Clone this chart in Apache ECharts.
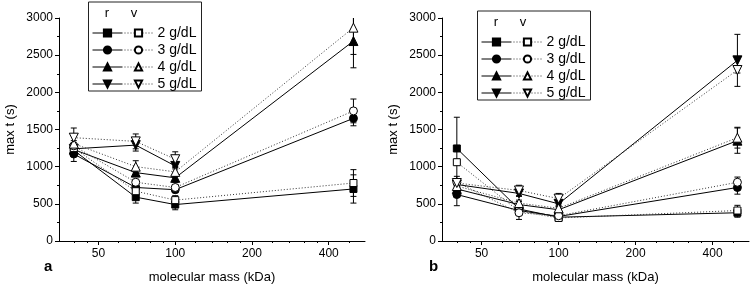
<!DOCTYPE html>
<html>
<head>
<meta charset="utf-8">
<script src="https://cdn.jsdelivr.net/npm/echarts@6/dist/echarts.min.js"></script>
<style>
  html, body { margin: 0; padding: 0; background: #fff; }
  #chart { width: 751px; height: 289px; }
</style>
</head>
<body>
<div id="chart"></div>
<script>
// molecular masses of the dextrans (kDa)
const masses = [40, 70, 100, 500];
const concentrations = ['2 g/dL', '3 g/dL', '4 g/dL', '5 g/dL'];
const xMajorTicks = [50, 100, 200, 400];
const xMinorTicks = [40, 45, 60, 70, 80, 90, 120, 140, 160, 180, 240, 280, 320, 360, 480];
const xRange = [35, 555];

// panel a, max t (s) and error, r = filled/solid, v = hollow/dotted
const aR2 = [1220, 590, 490, 700];    const aR2Err = [40, 80, 70, 190];
const aV2 = [1250, 670, 550, 780];    const aV2Err = [40, 60, 60, 180];
const aR3 = [1170, 720, 690, 1650];   const aR3Err = [100, 40, 40, 100];
const aV3 = [1280, 790, 720, 1750];   const aV3Err = [40, 40, 40, 160];
const aR4 = [1230, 920, 850, 2690];   const aR4Err = [40, 40, 60, 360];
const aV4 = [1310, 1000, 930, 2870];  const aV4Err = [40, 80, 60, 360];
const aR5 = [1240, 1290, 1010, null]; const aR5Err = [40, 80, 40, null];
const aV5 = [1390, 1340, 1100, null]; const aV5Err = [130, 100, 100, null];

// panel b
const bR2 = [1245, 430, 320, 380];    const bR2Err = [420, 40, 30, 60];
const bV2 = [1060, 400, 310, 410];    const bV2Err = [40, 40, 30, 70];
const bR3 = [625, 410, 330, 720];     const bR3Err = [150, 40, 40, 90];
const bV3 = [790, 380, 340, 790];     const bV3Err = [40, 90, 40, 70];
const bR4 = [700, 490, 420, 1350];    const bR4Err = [40, 40, 40, 170];
const bV4 = [740, 510, 440, 1390];    const bV4Err = [40, 40, 40, 140];
const bR5 = [760, 640, 500, 2430];    const bR5Err = [110, 40, 40, 350];
const bV5 = [780, 680, 570, 2300];    const bV5Err = [40, 70, 70, 40];

const panels = [
  { r: [aR2, aR3, aR4, aR5], rErr: [aR2Err, aR3Err, aR4Err, aR5Err],
    v: [aV2, aV3, aV4, aV5], vErr: [aV2Err, aV3Err, aV4Err, aV5Err] },
  { r: [bR2, bR3, bR4, bR5], rErr: [bR2Err, bR3Err, bR4Err, bR5Err],
    v: [bV2, bV3, bV4, bV5], vErr: [bV2Err, bV3Err, bV4Err, bV5Err] }
];

const FONT = 'Liberation Sans, Arial, sans-serif';
const symbols = ['rect', 'circle', 'triangle', 'triangle'];
const rotations = [0, 0, 0, 180];
const sizes = [7, 8, 9, 9];

const chart = echarts.init(document.getElementById('chart'));

function errorBar(params, api) {
  const x = api.value(0), y = api.value(1), e = api.value(2);
  const top = api.coord([x, y + e]);
  const bot = api.coord([x, y - e]);
  const hw = 3;
  const style = { stroke: '#000', lineWidth: 1 };
  return {
    type: 'group',
    children: [
      { type: 'line', shape: { x1: top[0], y1: top[1], x2: bot[0], y2: bot[1] }, style: style },
      { type: 'line', shape: { x1: top[0] - hw, y1: top[1], x2: top[0] + hw, y2: top[1] }, style: style },
      { type: 'line', shape: { x1: bot[0] - hw, y1: bot[1], x2: bot[0] + hw, y2: bot[1] }, style: style }
    ]
  };
}

const series = [];
panels.forEach((p, pi) => {
  ['r', 'v'].forEach(kind => {
    p[kind].forEach((vals, k) => {
      const errs = p[kind + 'Err'][k];
      const pts = [];
      const bars = [];
      vals.forEach((v, i) => {
        if (v == null) return;
        pts.push([Math.log2(masses[i]), v]);
        bars.push([Math.log2(masses[i]), v, errs[i]]);
      });
      const filled = kind === 'r';
      series.push({
        type: 'custom',
        xAxisIndex: pi * 2,
        yAxisIndex: pi,
        renderItem: errorBar,
        clip: true,
        z: 2,
        silent: true,
        data: bars
      });
      series.push({
        name: kind + ' ' + concentrations[k],
        type: 'line',
        xAxisIndex: pi * 2,
        yAxisIndex: pi,
        data: pts,
        symbol: symbols[k],
        symbolRotate: rotations[k],
        symbolSize: sizes[k],
        showAllSymbol: true,
        z: 3,
        lineStyle: filled
          ? { color: '#000', width: 1, type: 'solid' }
          : { color: '#333', width: 1, type: [1, 2] },
        itemStyle: filled
          ? { color: '#000', borderColor: '#000', borderWidth: 1 }
          : { color: '#fff', borderColor: '#000', borderWidth: 1 }
      });
    });
  });
});

const grids = [
  { left: 59, top: 18, width: 306, height: 225 },
  { left: 442, top: 18, width: 307, height: 225 }
];

const xAxes = [];
const yAxes = [];
grids.forEach((g, gi) => {
  xAxes.push({
    type: 'value', gridIndex: gi, position: 'bottom',
    min: Math.log2(xRange[0]), max: Math.log2(xRange[1]),
    axisLine: { show: true, onZero: false, lineStyle: { color: '#000', width: 1 } },
    splitLine: { show: false },
    axisTick: { show: true, length: 4, customValues: xMajorTicks.map(m => Math.log2(m)),
                lineStyle: { color: '#000' } },
    axisLabel: { customValues: xMajorTicks.map(m => Math.log2(m)),
                 formatter: v => String(Math.round(Math.pow(2, v))),
                 color: '#000', fontSize: 12, margin: 7, fontFamily: FONT },
    name: 'molecular mass (kDa)', nameLocation: 'middle', nameGap: 30,
    nameTextStyle: { color: '#000', fontSize: 13, fontFamily: FONT }
  });
  xAxes.push({
    type: 'value', gridIndex: gi, position: 'bottom',
    min: Math.log2(xRange[0]), max: Math.log2(xRange[1]),
    axisLine: { show: false, onZero: false },
    splitLine: { show: false },
    axisTick: { show: true, length: 2, customValues: xMinorTicks.map(m => Math.log2(m)),
                lineStyle: { color: '#000' } },
    axisLabel: { show: false }
  });
  yAxes.push({
    type: 'value', gridIndex: gi, min: 0, max: 3000, interval: 500,
    axisLine: { show: true, lineStyle: { color: '#000', width: 1 } },
    axisTick: { show: true, length: 4, lineStyle: { color: '#000' } },
    minorTick: { show: true, splitNumber: 2, length: 2, lineStyle: { color: '#000' } },
    splitLine: { show: false },
    axisLabel: { color: '#000', fontSize: 12, margin: 6, fontFamily: FONT,
                 formatter: v => String(v) },
    name: 'max t (s)', nameLocation: 'middle', nameGap: 42,
    nameTextStyle: { color: '#000', fontSize: 13, fontFamily: FONT }
  });
});

// legend boxes (left x, top y) for each panel
const boxes = [[88, 1.5], [477, 10.5]];
const legends = [];
const graphics = [];
boxes.forEach(([bx, by], pi) => {
  const common = {
    orient: 'vertical', top: by + 24, padding: 0, itemGap: 2,
    itemHeight: 9, selectedMode: false,
    lineStyle: { width: 1 },
    textStyle: { color: '#000', fontSize: 14, lineHeight: 15, fontFamily: FONT }
  };
  legends.push(Object.assign({}, common, {
    left: bx + 4, itemWidth: 30,
    data: concentrations.map(c => 'r ' + c),
    formatter: () => ' '
  }));
  legends.push(Object.assign({}, common, {
    left: bx + 36, itemWidth: 28,
    data: concentrations.map(c => 'v ' + c),
    formatter: name => name.slice(2)
  }));
  graphics.push({
    type: 'rect', left: bx, top: by, z: 0,
    shape: { width: 113, height: 89 },
    style: { fill: '#fff', stroke: '#222', lineWidth: 1 }
  });
  graphics.push({
    type: 'text', x: bx + 19, y: by + 12,
    style: { text: 'r', fill: '#000', font: '13px ' + FONT, textAlign: 'center', textVerticalAlign: 'middle' }
  });
  graphics.push({
    type: 'text', x: bx + 46, y: by + 12,
    style: { text: 'v', fill: '#000', font: '13px ' + FONT, textAlign: 'center', textVerticalAlign: 'middle' }
  });
});

chart.setOption({
  animation: false,
  backgroundColor: '#fff',
  title: [
    { text: 'a', left: 39, top: 254, textStyle: { fontSize: 15, fontWeight: 'bold', color: '#000', fontFamily: FONT } },
    { text: 'b', left: 424, top: 254, textStyle: { fontSize: 15, fontWeight: 'bold', color: '#000', fontFamily: FONT } }
  ],
  grid: grids,
  xAxis: xAxes,
  yAxis: yAxes,
  legend: legends,
  graphic: graphics,
  series: series
});
</script>
</body>
</html>
